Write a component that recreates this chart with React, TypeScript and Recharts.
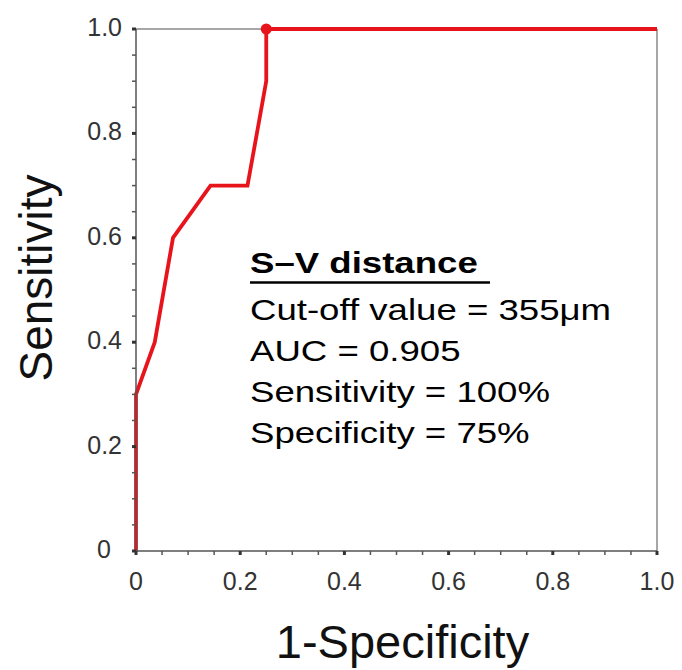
import React from 'react';
import { ComposedChart, Line, XAxis, YAxis, ReferenceDot, CartesianGrid } from 'recharts';

// ROC curve for the S–V distance classifier
const falsePositiveRate = [0, 0, 0.036, 0.071, 0.143, 0.214, 0.25, 0.25, 1.0];
const truePositiveRate = [0, 0.3, 0.4, 0.6, 0.7, 0.7, 0.9, 1.0, 1.0];

// Axis ticks
const majorTicks = [0, 0.2, 0.4, 0.6, 0.8, 1.0];
const tickLabels = ['0', '0.2', '0.4', '0.6', '0.8', '1.0'];
const minorTicks = [0.05, 0.1, 0.15, 0.25, 0.3, 0.35, 0.45, 0.5, 0.55, 0.65, 0.7, 0.75, 0.85, 0.9, 0.95];

// Summary statistics at the chosen cut-off
const markerName = 'S–V distance';
const cutoffValueUm = 355;
const auc = 0.905;
const cutoffSensitivity = 1.0;
const cutoffSpecificity = 0.75;

const rocData = falsePositiveRate.map((x, i) => ({ x, y: truePositiveRate[i] }));
const allTicks = [...majorTicks, ...minorTicks].sort((a, b) => a - b);

const FONT = '"Liberation Sans", Arial, Helvetica, sans-serif';
const RED = '#e8141c';
const AXIS = '#555';

const majorIndex = (v: number) => majorTicks.findIndex((t) => Math.abs(t - v) < 1e-9);

const XTick = (props: any) => {
  const { x, y, payload } = props;
  const idx = majorIndex(payload.value);
  if (idx < 0) {
    return <line x1={x} x2={x} y1={y} y2={y + 4} stroke={AXIS} strokeWidth={1.5} />;
  }
  return (
    <g>
      <line x1={x} x2={x} y1={y} y2={y + 4} stroke="#333" strokeWidth={3} />
      <text x={x} y={y + 39} textAnchor="middle" fontFamily={FONT} fontSize={25} fill="#333">
        {tickLabels[idx]}
      </text>
    </g>
  );
};

const YTick = (props: any) => {
  const { x, y, payload } = props;
  const idx = majorIndex(payload.value);
  if (idx < 0) {
    return <line x1={x - 4} x2={x} y1={y} y2={y} stroke={AXIS} strokeWidth={1.5} />;
  }
  const labelRight = payload.value === 0 ? x - 25 : x - 14;
  return (
    <g>
      <line x1={x - 4} x2={x} y1={y} y2={y} stroke="#333" strokeWidth={3} />
      <text x={labelRight} y={y + 7} textAnchor="end" fontFamily={FONT} fontSize={25} fill="#333">
        {tickLabels[idx]}
      </text>
    </g>
  );
};

const XTitle = (props: any) => {
  const vb = props.viewBox;
  return (
    <text
      x={vb.x + vb.width / 2 + 6}
      y={vb.y + 107}
      textAnchor="middle"
      fontFamily={FONT}
      fontSize={47}
      fill="#111"
    >
      1-Specificity
    </text>
  );
};

const YTitle = (props: any) => {
  const vb = props.viewBox;
  const cx = vb.x + 52;
  const cy = vb.y + vb.height / 2 - 12;
  return (
    <text
      x={cx}
      y={cy}
      transform={`rotate(-90, ${cx}, ${cy})`}
      textAnchor="middle"
      fontFamily={FONT}
      fontSize={46}
      fill="#111"
    >
      Sensitivity
    </text>
  );
};

const summaryLines = [
  `Cut-off value = ${cutoffValueUm}μm`,
  `AUC = ${auc.toFixed(3)}`,
  `Sensitivity = ${Math.round(cutoffSensitivity * 100)}%`,
  `Specificity = ${Math.round(cutoffSpecificity * 100)}%`,
];
const summaryBaselines = [320, 361.5, 402.5, 443.5];

export default function App() {
  return (
    <div style={{ position: 'absolute', left: 0, top: 0, width: 682, height: 670, background: '#fff' }}>
      <ComposedChart
        width={682}
        height={670}
        data={rocData}
        margin={{ top: 29, right: 25, bottom: 0, left: 0 }}
      >
        {/* top and right frame edges of the plot box */}
        <CartesianGrid
          stroke="#888"
          strokeWidth={1.5}
          horizontalCoordinatesGenerator={(p: any) => [p.offset.top]}
          verticalCoordinatesGenerator={(p: any) => [p.offset.left + p.offset.width]}
        />
        <XAxis
          type="number"
          dataKey="x"
          domain={[0, 1]}
          ticks={allTicks}
          interval={0}
          tick={(p: any) => <XTick {...p} />}
          tickLine={false}
          tickSize={0}
          tickMargin={0}
          height={119}
          axisLine={{ stroke: AXIS, strokeWidth: 1.5 }}
          label={{ content: (p: any) => <XTitle {...p} /> }}
        />
        <YAxis
          type="number"
          domain={[0, 1]}
          ticks={allTicks}
          interval={0}
          tick={(p: any) => <YTick {...p} />}
          tickLine={false}
          tickSize={0}
          tickMargin={0}
          width={136}
          axisLine={{ stroke: AXIS, strokeWidth: 1.5 }}
          label={{ content: (p: any) => <YTitle {...p} /> }}
        />
        <Line
          dataKey="y"
          type="linear"
          stroke={RED}
          strokeWidth={3.8}
          dot={false}
          activeDot={false}
          isAnimationActive={false}
        />
        <ReferenceDot
          x={1 - cutoffSpecificity}
          y={cutoffSensitivity}
          r={5.5}
          fill={RED}
          stroke="none"
        />
      </ComposedChart>
      <svg
        width={682}
        height={670}
        style={{ position: 'absolute', left: 0, top: 0, pointerEvents: 'none' }}
      >
        <g transform="translate(250,0) scale(1.22,1)" fontFamily={FONT} fontSize={30} fill="#000">
          <text x={0} y={273} fontWeight="bold">
            {markerName}
          </text>
          {summaryLines.map((s, i) => (
            <text key={s} x={0} y={summaryBaselines[i]}>
              {s}
            </text>
          ))}
        </g>
        <line x1={250} x2={490} y1={282.5} y2={282.5} stroke="#000" strokeWidth={2.5} />
      </svg>
    </div>
  );
}
